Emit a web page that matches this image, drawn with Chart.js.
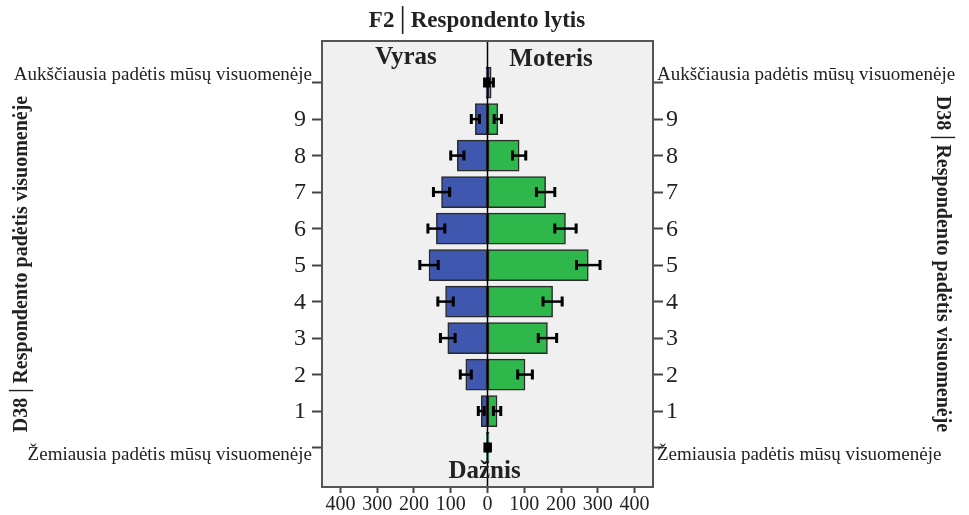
<!DOCTYPE html>
<html>
<head>
<meta charset="utf-8">
<script src="https://cdn.jsdelivr.net/npm/chart.js"></script>
<style>
  html, body { margin: 0; padding: 0; background: #fff; }
  #wrap { width: 969px; height: 515px; position: relative; }
</style>
</head>
<body>
<div id="wrap"><canvas id="pyramid"></canvas></div>
<script>
// categories top to bottom
const categories = ['Aukščiausia padėtis mūsų visuomenėje', '9', '8', '7', '6', '5', '4', '3', '2', '1', 'Žemiausia padėtis mūsų visuomenėje'];
const maleCounts = [4, 33, 82, 125, 139, 159, 114, 108, 59, 17, 3];
const femaleCounts = [10, 28, 86, 158, 212, 274, 177, 163, 102, 26, 4];
// half widths of the error bars
const maleErr = [4, 11, 18, 22, 23, 25, 21, 20, 15, 8, 4];
const femaleErr = [6, 10, 18, 25, 29, 32, 26, 25, 20, 10, 4];
const xTicks = [-400, -300, -200, -100, 0, 100, 200, 300, 400];

const SERIF = '"Liberation Serif", "DejaVu Serif", serif';

// frame, zero line and error bars
const decorPlugin = {
    id: 'decor',
    beforeDraw(chart) {
        const { ctx, chartArea: a } = chart;
        ctx.save();
        ctx.fillStyle = '#f0f0f0';
        ctx.fillRect(a.left, a.top, a.right - a.left, a.bottom - a.top);
        ctx.restore();
    },
    afterDatasetsDraw(chart) {
        const { ctx, chartArea: a } = chart;
        const xs = chart.scales.x;
        const x0 = xs.getPixelForValue(0);
        ctx.save();
        ctx.strokeStyle = '#000';
        ctx.lineWidth = 1.5;
        ctx.beginPath();
        ctx.moveTo(x0, a.top);
        ctx.lineTo(x0, a.bottom);
        ctx.stroke();

        const errs = [maleErr, femaleErr];
        chart.data.datasets.forEach((ds, di) => {
            const meta = chart.getDatasetMeta(di);
            meta.data.forEach((bar, j) => {
                const v = ds.data[j].x;
                const e = errs[di][j];
                const lo = xs.getPixelForValue(v - e);
                const hi = xs.getPixelForValue(v + e);
                const y = bar.y;
                ctx.lineWidth = 2.5;
                ctx.beginPath();
                ctx.moveTo(lo, y); ctx.lineTo(hi, y);
                ctx.stroke();
                ctx.lineWidth = 3;
                ctx.beginPath();
                ctx.moveTo(lo, y - 5); ctx.lineTo(lo, y + 5);
                ctx.moveTo(hi, y - 5); ctx.lineTo(hi, y + 5);
                ctx.stroke();
            });
        });
        ctx.restore();
    },
    afterDraw(chart) {
        const { ctx, chartArea: a } = chart;
        const ys = chart.scales.y;
        const xs = chart.scales.x;
        ctx.save();
        ctx.strokeStyle = '#555';
        ctx.lineWidth = 2;
        ctx.strokeRect(a.left, a.top, a.right - a.left, a.bottom - a.top);

        ctx.fillStyle = '#222';
        categories.forEach((c, i) => {
            const y = ys.getPixelForValue(i);
            const isLong = c.length > 2;
            const dy = i === 0 ? -8 : (i === categories.length - 1 ? 7 : 1);
            ctx.textBaseline = 'middle';
            ctx.font = isLong ? '19px ' + SERIF : '24px ' + SERIF;
            ctx.textAlign = 'right';
            ctx.fillText(c, isLong ? a.left - 10 : a.left - 16, y + dy);
            ctx.textAlign = 'left';
            ctx.fillText(c, isLong ? a.right + 4 : a.right + 13, y + dy);
        });

        ctx.fillStyle = '#222';
        ctx.textAlign = 'center';
        ctx.textBaseline = 'middle';
        ctx.font = 'bold 23px ' + SERIF;
        ctx.fillText('F2│Respondento lytis', 477, 21);
        ctx.font = 'bold 25px ' + SERIF;
        ctx.fillText('Vyras', 406, 58);
        ctx.fillText('Moteris', 551, 60);
        ctx.fillText('Dažnis', xs.getPixelForValue(0) - 3, 472);

        const yTitle = 'D38│Respondento padėtis visuomenėje';
        const cy = (a.top + a.bottom) / 2;
        ctx.font = 'bold 20px ' + SERIF;
        ctx.save();
        ctx.translate(22, cy);
        ctx.rotate(-Math.PI / 2);
        ctx.fillText(yTitle, 0, 0);
        ctx.restore();
        ctx.save();
        ctx.translate(942, cy);
        ctx.rotate(Math.PI / 2);
        ctx.fillText(yTitle, 0, 0);
        ctx.restore();
        ctx.restore();
    }
};

function sideAxis(position, width) {
    return {
        type: 'linear',
        position: position,
        reverse: true,
        offset: false,
        min: -1.14,
        max: 11.08,
        afterBuildTicks: s => { s.ticks = categories.map((c, i) => ({ value: i })); },
        afterFit: s => { s.width = width; },
        ticks: { display: false },
        grid: { offset: false, drawOnChartArea: false, tickLength: 10, tickColor: '#444', tickWidth: 2 },
        border: { display: false }
    };
}

new Chart(document.getElementById('pyramid'), {
    type: 'bar',
    data: {
        datasets: [{
            label: 'Vyras',
            data: maleCounts.map((v, i) => ({ x: -v, y: i })),
            backgroundColor: '#3f57ae',
            borderColor: '#2a2a2a',
            borderWidth: 1.5,
            borderSkipped: false,
            barThickness: 31
        }, {
            label: 'Moteris',
            data: femaleCounts.map((v, i) => ({ x: v, y: i })),
            backgroundColor: '#2eb84b',
            borderColor: '#2a2a2a',
            borderWidth: 1.5,
            borderSkipped: false,
            barThickness: 31
        }]
    },
    options: {
        indexAxis: 'y',
        responsive: true,
        maintainAspectRatio: false,
        animation: false,
        layout: { padding: { top: 41, left: 0, right: 0, bottom: 0 } },
        scales: {
            x: {
                type: 'linear',
                stacked: true,
                min: -450,
                max: 450,
                afterBuildTicks: s => { s.ticks = xTicks.map(v => ({ value: v })); },
                afterFit: s => { s.height = 28; },
                ticks: {
                    callback: v => Math.abs(v),
                    font: { family: SERIF, size: 20 },
                    color: '#222',
                    padding: 0,
                    maxRotation: 0,
                    autoSkip: false
                },
                grid: { color: 'transparent', tickColor: '#444', tickWidth: 2, tickLength: 6 },
                border: { display: false }
            },
            y: Object.assign(sideAxis('left', 322), { stacked: true }),
            y2: sideAxis('right', 316)
        },
        plugins: {
            legend: { display: false },
            tooltip: { enabled: false }
        }
    },
    plugins: [decorPlugin]
});
</script>
</body>
</html>
